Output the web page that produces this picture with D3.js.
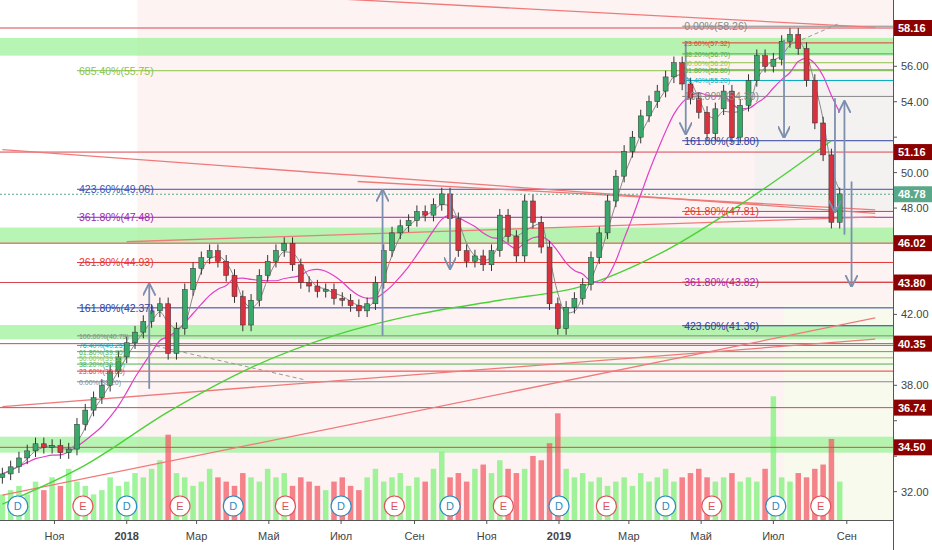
<!DOCTYPE html><html><head><meta charset="utf-8">
<script src="https://cdn.jsdelivr.net/npm/d3@7/dist/d3.min.js"></script>
<style>body{margin:0;background:#fff}svg{font-family:"Liberation Sans",Arial,sans-serif}</style></head><body>
<svg id="c" width="932" height="550"></svg>
<script>
const startDate="2017-09-18";
const closes=[33.0,33.4,33.9,34.3,34.7,34.5,34.6,34.2,34.4,35.8,36.6,
37.3,38.0,38.8,39.6,40.4,41.0,41.6,42.2,42.6,39.8,
41.2,43.4,44.6,45.2,45.6,45.0,44.2,43.0,41.4,42.8,
44.2,45.0,45.6,46.0,44.8,43.8,43.6,43.3,43.4,42.9,
42.8,42.5,42.2,42.6,43.8,45.6,46.6,47.0,47.3,47.8,
47.6,48.2,48.8,47.4,45.6,45.0,45.3,44.8,45.6,47.6,
46.4,45.3,48.4,47.2,45.8,42.6,41.2,42.4,42.9,43.7,
45.2,46.6,48.4,49.8,51.2,52.0,53.2,54.0,54.6,55.4,
56.2,55.0,54.2,53.4,52.2,53.6,54.6,52.0,53.8,55.2,
56.6,56.0,56.4,57.4,57.8,57.0,55.2,52.8,51.0,47.2,48.8];
const volumes=[0.3,0.35,0.4,0.3,0.45,0.35,0.5,0.4,0.6,0.45,0.4,
0.3,0.35,0.5,0.4,0.45,0.55,0.5,0.6,0.7,1.0,
0.55,0.5,0.4,0.45,0.6,0.5,0.45,0.4,0.55,0.5,
0.45,0.6,0.5,0.55,0.4,0.5,0.45,0.4,0.35,0.45,
0.5,0.4,0.35,0.5,0.6,0.45,0.5,0.55,0.4,0.5,
0.45,0.6,0.8,0.5,0.55,0.45,0.6,0.65,0.55,0.7,
0.6,0.55,0.6,0.75,0.7,0.9,1.25,0.6,0.5,0.55,
0.45,0.5,0.4,0.45,0.5,0.4,0.55,0.45,0.5,0.6,
0.45,0.5,0.55,0.6,0.5,0.45,0.5,0.55,0.45,0.5,
0.45,0.6,1.45,0.5,0.45,0.55,0.5,0.6,0.65,0.95,0.45];
const ma200=[31.3,33.5,36.5,39.0,40.8,42.0,42.8,43.6,45.6,48.5,51.8];
const priceTicks=[32,34,36,38,40,42,44,46,48,50,52,54,56];
const redLevels=[58.16,51.16,46.02,43.80,40.35,36.74,34.50];
const bands=[[56.6,57.6],[46.0,46.9],[40.6,41.4],[34.2,35.1]];
const monthLabels=[["2017-11-01","Ноя"],["2018-01-01","2018"],["2018-03-01","Мар"],["2018-05-01","Май"],["2018-07-01","Июл"],["2018-09-01","Сен"],["2018-11-01","Ноя"],["2019-01-01","2019"],["2019-03-01","Мар"],["2019-05-01","Май"],["2019-07-01","Июл"],["2019-09-01","Сен"]];
const fibLeft=[[55.75,"685.40%(55.75)","#8bc34a"],[49.06,"423.60%(49.06)","#3f51b5"],[47.48,"361.80%(47.48)","#9c27b0"],[44.93,"261.80%(44.93)","#e53935"],[42.37,"161.80%(42.37)","#303f9f"],[40.79,"100.00%(40.79)","#888"],[40.25,"76.40%(40.25)","#00acc1"],[39.9,"61.80%(39.90)","#4caf50"],[39.55,"50.00%(39.55)","#8bc34a"],[39.2,"38.20%(39.20)","#4caf50"],[38.8,"23.60%(38.80)","#e53935"],[38.2,"0.00%(38.20)","#888"]];
const fibRight=[[58.26,"0.00%(58.26)","#888"],[57.32,"23.60%(57.32)","#e53935"],[56.7,"38.20%(56.70)","#4caf50"],[56.2,"50.00%(56.20)","#8bc34a"],[55.8,"61.80%(55.80)","#4caf50"],[55.2,"76.40%(55.20)","#00acc1"],[54.3,"100.00%(54.30)","#888"],[51.8,"161.80%(51.80)","#303f9f"],[47.81,"261.80%(47.81)","#e53935"],[43.82,"361.80%(43.82)","#9c27b0"],[41.36,"423.60%(41.36)","#303f9f"]];
const dividends=["2017-10-01","2018-01-01","2018-04-01","2018-07-01","2018-10-01","2019-01-01","2019-04-01","2019-07-03"];
const earnings=["2017-11-25","2018-02-15","2018-05-15","2018-08-15","2018-11-15","2019-02-10","2019-05-10","2019-08-10"];
const diagLines=[["2017-09-18",31.8,"2019-09-25",41.8],["2017-09-18",36.8,"2019-09-25",40.6],["2017-09-18",51.3,"2019-09-25",47.7],["2018-07-15",49.5,"2019-09-25",47.9],["2018-06-01",59.9,"2019-09-25",58.2],["2018-01-01",46.1,"2019-09-25",47.5]];
const arrows=[["2018-01-20",37.8,"2018-01-20",43.7],["2018-08-05",40.8,"2018-08-05",49.0],["2018-10-01",49.0,"2018-10-01",44.6],["2019-04-18",57.4,"2019-04-18",52.2],["2019-07-10",57.5,"2019-07-10",52.0],["2019-08-22",54.2,"2019-08-22",47.8],["2019-08-30",46.5,"2019-08-30",54.0],["2019-09-05",49.5,"2019-09-05",43.6]];

const svg=d3.select("#c");
const W=893,H=520;
const x=d3.scaleTime().domain([new Date("2017-09-16"),new Date("2019-10-10")]).range([0,W]);
const y=d3.scaleLinear().domain([30.4,59.74]).range([H,0]);
const wk=d=>d3.timeWeek.offset(new Date(startDate),d);
const p=d=>new Date(d);
svg.append("rect").attr("x",x(p("2018-01-10"))).attr("y",0).attr("width",W-x(p("2018-01-10"))).attr("height",H).attr("fill","#fdf3f3");
svg.append("rect").attr("x",x(p("2019-06-15"))).attr("y",y(55.3)).attr("width",W-x(p("2019-06-15"))).attr("height",y(47.8)-y(55.3)).attr("fill","#f0f0f0").attr("opacity",0.7);
svg.append("rect").attr("x",x(p("2019-07-10"))).attr("y",y(42.5)).attr("width",W-x(p("2019-07-10"))).attr("height",H-y(42.5)).attr("fill","#f8faee");
bands.forEach(b=>svg.append("rect").attr("x",0).attr("width",W).attr("y",y(b[1])).attr("height",y(b[0])-y(b[1])).attr("fill","#9ef29a").attr("opacity",0.75));
const vy=d3.scaleLinear().domain([0,1.5]).range([H,392]);
const bw=5.5;
closes.forEach((c,i)=>{const o=i?closes[i-1]:c-0.2;
 svg.append("rect").attr("x",x(wk(i))-bw/2).attr("width",bw).attr("y",vy(volumes[i])).attr("height",H-vy(volumes[i])).attr("fill",c>=o?"#7ff27a":"#f25b65").attr("opacity",0.75);});
fibLeft.forEach(f=>svg.append("line").attr("x1",x(p("2017-11-20"))).attr("x2",W).attr("y1",y(f[0])).attr("y2",y(f[0])).attr("stroke",f[2]).attr("stroke-width",1));
fibRight.forEach(f=>svg.append("line").attr("x1",x(p("2019-04-15"))).attr("x2",W).attr("y1",y(f[0])).attr("y2",y(f[0])).attr("stroke",f[2]).attr("stroke-width",1));
redLevels.forEach(v=>svg.append("line").attr("x1",0).attr("x2",W).attr("y1",y(v)).attr("y2",y(v)).attr("stroke","#d9464e").attr("stroke-width",1));
diagLines.forEach(l=>svg.append("line").attr("x1",x(p(l[0]))).attr("y1",y(l[1])).attr("x2",x(p(l[2]))).attr("y2",y(l[3])).attr("stroke","#f07a7a").attr("stroke-width",1.3));
svg.append("line").attr("x1",x(p("2018-01-20"))).attr("y1",y(40.3)).attr("x2",x(p("2018-06-01"))).attr("y2",y(38.3)).attr("stroke","#999").attr("stroke-dasharray","4,3");
svg.append("line").attr("x1",x(p("2019-07-25"))).attr("y1",y(57.5)).attr("x2",x(p("2019-08-25"))).attr("y2",y(58.4)).attr("stroke","#999").attr("stroke-dasharray","4,3");
svg.append("line").attr("x1",0).attr("x2",W).attr("y1",y(48.78)).attr("y2",y(48.78)).attr("stroke","#5aa88a").attr("stroke-dasharray","2,2");
const line=d3.line().x(d=>d[0]).y(d=>d[1]).curve(d3.curveMonotoneX);
svg.append("path").attr("d",line(ma200.map((v,i)=>[x(wk(i*10)),y(v)]))).attr("fill","none").attr("stroke","#4cd137").attr("stroke-width",1.4);
const ma=n=>closes.map((c,i)=>d3.mean(closes.slice(Math.max(0,i-n+1),i+1)));
svg.append("path").attr("d",line(ma(8).map((v,i)=>[x(wk(i)),y(v)]))).attr("fill","none").attr("stroke","#e040c8").attr("stroke-width",1.2);
svg.append("path").attr("d",line(ma(3).map((v,i)=>[x(wk(i)),y(v)]))).attr("fill","none").attr("stroke","#888").attr("stroke-width",1);
closes.forEach((c,i)=>{const o=i?closes[i-1]:c-0.2;const up=c>=o;const col=up?"#3aa86a":"#d7323e";
 const hi=Math.max(o,c)+0.35,lo=Math.min(o,c)-0.35;const cx=x(wk(i));
 svg.append("line").attr("x1",cx).attr("x2",cx).attr("y1",y(hi)).attr("y2",y(lo)).attr("stroke","#333");
 svg.append("rect").attr("x",cx-2.5).attr("width",5).attr("y",y(Math.max(o,c))).attr("height",Math.max(1,y(Math.min(o,c))-y(Math.max(o,c)))).attr("fill",col).attr("stroke","#333").attr("stroke-width",0.5);});
const defs=svg.append("defs");
defs.append("marker").attr("id","ah").attr("viewBox","0 0 10 10").attr("refX",9).attr("refY",5).attr("markerWidth",7).attr("markerHeight",7).attr("orient","auto").append("path").attr("d","M0,0L10,5L0,10").attr("fill","none").attr("stroke","#7d8fae").attr("stroke-width",1.5);
arrows.forEach(a=>svg.append("line").attr("x1",x(p(a[0]))).attr("y1",y(a[1])).attr("x2",x(p(a[2]))).attr("y2",y(a[3])).attr("stroke","#7d8fae").attr("stroke-width",1.8).attr("marker-end","url(#ah)"));
const lab=(arr,d)=>arr.forEach((f,i)=>{const tight=(i>0&&Math.abs(arr[i-1][0]-f[0])<0.7)||(i<arr.length-1&&Math.abs(arr[i+1][0]-f[0])<0.7);
 svg.append("text").attr("x",x(p(d))+2).attr("y",y(f[0])+(tight?3:4)).attr("font-size",tight?7:10.5).attr("fill",f[2]).text(f[1]);});
lab(fibLeft,"2017-11-20");lab(fibRight,"2019-04-15");
[[dividends,"D","#2a8bbf"],[earnings,"E","#e0505a"]].forEach(([arr,t,c])=>arr.forEach(d=>{const g=svg.append("g").attr("transform",`translate(${x(p(d))},506)`);
 g.append("circle").attr("r",10).attr("fill","#fff").attr("stroke",c).attr("stroke-width",1.2);
 g.append("text").attr("text-anchor","middle").attr("y",4).attr("font-size",11).attr("fill",c).text(t);}));
svg.append("line").attr("x1",W+0.5).attr("x2",W+0.5).attr("y1",0).attr("y2",550).attr("stroke","#555");
svg.append("line").attr("x1",0).attr("x2",W).attr("y1",H+0.5).attr("y2",H+0.5).attr("stroke","#555");
priceTicks.forEach(v=>{svg.append("line").attr("x1",W).attr("x2",W+4).attr("y1",y(v)).attr("y2",y(v)).attr("stroke","#555");
 if(redLevels.some(r=>Math.abs(r-v)<0.9)||Math.abs(v-48.78)<0.75) return;
 svg.append("text").attr("x",W+8).attr("y",y(v)+4).attr("font-size",11).attr("fill","#444").text(v.toFixed(2));});
redLevels.forEach(v=>{svg.append("rect").attr("x",W+1).attr("y",y(v)-8).attr("width",39).attr("height",16).attr("fill","#8b0000");
 svg.append("text").attr("x",W+5).attr("y",y(v)+4).attr("font-size",11).attr("font-weight","bold").attr("fill","#fff").text(v.toFixed(2));});
svg.append("rect").attr("x",W+1).attr("y",y(48.78)-8).attr("width",39).attr("height",16).attr("fill","#5aa88a");
svg.append("text").attr("x",W+5).attr("y",y(48.78)+4).attr("font-size",11).attr("font-weight","bold").attr("fill","#fff").text("48.78");
monthLabels.forEach(m=>{svg.append("line").attr("x1",x(p(m[0]))).attr("x2",x(p(m[0]))).attr("y1",H).attr("y2",H+4).attr("stroke","#555");
 svg.append("text").attr("x",x(p(m[0]))).attr("y",H+20).attr("text-anchor","middle").attr("font-size",11).attr("fill","#444").attr("font-weight",m[1].length==4?"bold":"normal").text(m[1]);});
</script></body></html>
